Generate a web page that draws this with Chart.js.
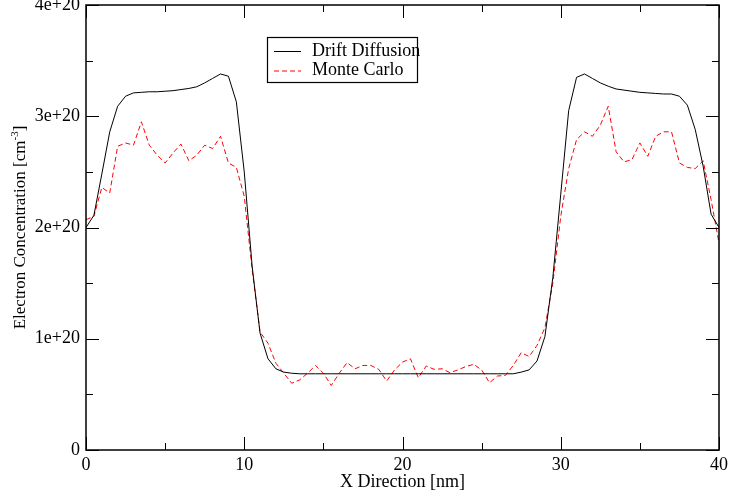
<!DOCTYPE html>
<html>
<head>
<meta charset="utf-8">
<script src="https://cdn.jsdelivr.net/npm/chart.js@4/dist/chart.umd.min.js"></script>
<style>
    body { margin: 0; background: #fff; }
    #wrap { width: 730px; height: 497px; }
</style>
</head>
<body>
<div id="wrap"><canvas id="concChart" width="730" height="497"></canvas></div>
<script>
// x positions [nm]
const xNm = [
    0, 0.5, 1, 1.5, 2, 2.5, 3, 3.5, 4, 4.5, 5, 5.5, 6, 6.5, 7, 7.5, 8, 8.5, 9, 9.5,
    10, 10.5, 11, 11.5, 12, 12.5, 13, 13.5, 14, 14.5, 15, 15.5, 16, 16.5, 17, 17.5, 18, 18.5, 19, 19.5,
    20, 20.5, 21, 21.5, 22, 22.5, 23, 23.5, 24, 24.5, 25, 25.5, 26, 26.5, 27, 27.5, 28, 28.5, 29, 29.5,
    30, 30.5, 31, 31.5, 32, 32.5, 33, 33.5, 34, 34.5, 35, 35.5, 36, 36.5, 37, 37.5, 38, 38.5, 39, 39.5, 40
];

// electron concentration, in units of 1e+20 cm^-3
const driftDiffusion = [
    2.00, 2.11, 2.48, 2.86, 3.09, 3.18, 3.21, 3.215, 3.22, 3.22, 3.225, 3.23, 3.24, 3.25, 3.265, 3.30, 3.34, 3.38, 3.36, 3.13,
    2.50, 1.65, 1.05, 0.82, 0.73, 0.70, 0.69, 0.685, 0.685, 0.685, 0.685, 0.685, 0.685, 0.685, 0.685, 0.685, 0.685, 0.685, 0.685, 0.685,
    0.685, 0.685, 0.685, 0.685, 0.685, 0.685, 0.685, 0.685, 0.685, 0.685, 0.685, 0.685, 0.685, 0.685, 0.685, 0.70, 0.72, 0.80, 1.02, 1.55,
    2.30, 3.05, 3.35, 3.38, 3.34, 3.30, 3.27, 3.245, 3.235, 3.225, 3.215, 3.21, 3.205, 3.20, 3.20, 3.18, 3.10, 2.88, 2.55, 2.12, 2.00
];

const monteCarlo = [
    2.07, 2.10, 2.36, 2.31, 2.73, 2.76, 2.74, 2.95, 2.74, 2.65, 2.58, 2.67, 2.75, 2.60, 2.65, 2.74, 2.71, 2.82, 2.58, 2.54,
    2.28, 1.62, 1.06, 0.96, 0.78, 0.69, 0.60, 0.63, 0.69, 0.76, 0.69, 0.58, 0.69, 0.785, 0.73, 0.76, 0.76, 0.725, 0.62, 0.72,
    0.79, 0.82, 0.65, 0.755, 0.725, 0.73, 0.695, 0.72, 0.75, 0.77, 0.72, 0.605, 0.665, 0.67, 0.76, 0.875, 0.84, 0.94, 1.10, 1.50,
    2.10, 2.53, 2.79, 2.86, 2.82, 2.92, 3.09, 2.68, 2.59, 2.61, 2.76, 2.64, 2.82, 2.86, 2.86, 2.58, 2.54, 2.53, 2.60, 2.25, 1.86
];

const seriesLabels = ['Drift Diffusion', 'Monte Carlo'];
const xTitle = 'X Direction [nm]';
const yTitle = 'Electron Concentration [cm';
const yTitleSup = '-3';

const FONT = "'Liberation Serif', 'Times New Roman', serif";

function toPoints(ys) {
    return xNm.map((x, i) => ({ x: x, y: ys[i] }));
}

// frame, inward ticks (major + minor), legend box and y title
const decorPlugin = {
    id: 'decor',
    afterDraw(chart) {
        const ctx = chart.ctx;
        const a = chart.chartArea;
        const xs = chart.scales.x;
        const ys = chart.scales.y;
        ctx.save();
        ctx.strokeStyle = '#000';
        ctx.lineWidth = 1.5;
        ctx.strokeRect(a.left, a.top, a.right - a.left, a.bottom - a.top);

        ctx.lineWidth = 1;
        ctx.beginPath();
        const drawX = (v, len) => {
            const p = Math.round(xs.getPixelForValue(v)) + 0.5;
            ctx.moveTo(p, a.bottom); ctx.lineTo(p, a.bottom - len);
            ctx.moveTo(p, a.top); ctx.lineTo(p, a.top + len);
        };
        const drawY = (v, len) => {
            const p = Math.round(ys.getPixelForValue(v)) + 0.5;
            ctx.moveTo(a.left, p); ctx.lineTo(a.left + len, p);
            ctx.moveTo(a.right, p); ctx.lineTo(a.right - len, p);
        };
        xs.ticks.forEach((t, i) => {
            drawX(t.value, 13);
            if (i < xs.ticks.length - 1) drawX((t.value + xs.ticks[i + 1].value) / 2, 7);
        });
        ys.ticks.forEach((t, i) => {
            drawY(t.value, 13);
            if (i < ys.ticks.length - 1) drawY((t.value + ys.ticks[i + 1].value) / 2, 7);
        });
        ctx.stroke();

        // legend
        ctx.lineWidth = 1.2;
        ctx.strokeRect(267.5, 37.5, 150, 45);
        ctx.font = '18px ' + FONT;
        ctx.textBaseline = 'middle';
        ctx.fillStyle = '#000';
        chart.data.datasets.forEach((ds, i) => {
            const y = 51 + i * 19.5;
            ctx.beginPath();
            ctx.strokeStyle = ds.borderColor;
            ctx.lineWidth = 1;
            ctx.setLineDash(ds.borderDash || []);
            ctx.moveTo(274, y + 0.5); ctx.lineTo(301, y + 0.5);
            ctx.stroke();
            ctx.setLineDash([]);
            ctx.fillText(ds.label, 312, y);
        });

        // y title with superscript
        ctx.translate(21, (a.top + a.bottom) / 2);
        ctx.rotate(-Math.PI / 2);
        ctx.font = '17px ' + FONT;
        const w1 = ctx.measureText(yTitle).width;
        ctx.font = '11px ' + FONT;
        const w2 = ctx.measureText(yTitleSup).width;
        ctx.font = '17px ' + FONT;
        const w3 = ctx.measureText(']').width;
        let x0 = -(w1 + w2 + w3) / 2;
        ctx.textAlign = 'left';
        ctx.fillText(yTitle, x0, 0);
        ctx.font = '11px ' + FONT;
        ctx.fillText(yTitleSup, x0 + w1, -6);
        ctx.font = '17px ' + FONT;
        ctx.fillText(']', x0 + w1 + w2, 0);
        ctx.restore();
    }
};

function renderChart() {
    const ctx = document.getElementById('concChart').getContext('2d');
    new Chart(ctx, {
        type: 'line',
        data: {
            datasets: [{
                label: seriesLabels[0],
                data: toPoints(driftDiffusion),
                borderColor: '#000000',
                borderWidth: 1,
                pointRadius: 0,
                tension: 0,
                fill: false
            }, {
                label: seriesLabels[1],
                data: toPoints(monteCarlo),
                borderColor: '#ff0000',
                borderWidth: 1,
                borderDash: [5, 3],
                pointRadius: 0,
                tension: 0,
                fill: false
            }]
        },
        options: {
            responsive: false,
            animation: false,
            layout: { padding: { left: 0, right: 11, top: 5, bottom: 0 } },
            plugins: {
                legend: { display: false },
                tooltip: { enabled: false }
            },
            scales: {
                x: {
                    type: 'linear',
                    min: 0,
                    max: 40,
                    grid: { display: false, drawTicks: false },
                    border: { display: false },
                    ticks: {
                        stepSize: 10,
                        padding: 4,
                        color: '#000',
                        maxRotation: 0,
                        font: { family: FONT, size: 18 }
                    },
                    title: {
                        display: true,
                        text: xTitle,
                        color: '#000',
                        padding: { top: 0, bottom: 4 },
                        font: { family: FONT, size: 18 }
                    },
                    afterFit(scale) {
                        scale.height = 47;
                        scale.paddingLeft = 0;
                        scale.paddingRight = 0;
                    }
                },
                y: {
                    min: 0,
                    max: 4,
                    grid: { display: false, drawTicks: false },
                    border: { display: false },
                    ticks: {
                        stepSize: 1,
                        padding: 6,
                        color: '#000',
                        font: { family: FONT, size: 18 },
                        callback: (v) => v === 0 ? '0' : v + 'e+20'
                    },
                    afterFit(scale) {
                        scale.width = 86;
                        scale.paddingTop = 0;
                        scale.paddingBottom = 0;
                    }
                }
            }
        },
        plugins: [decorPlugin]
    });
}

renderChart();
</script>
</body>
</html>
